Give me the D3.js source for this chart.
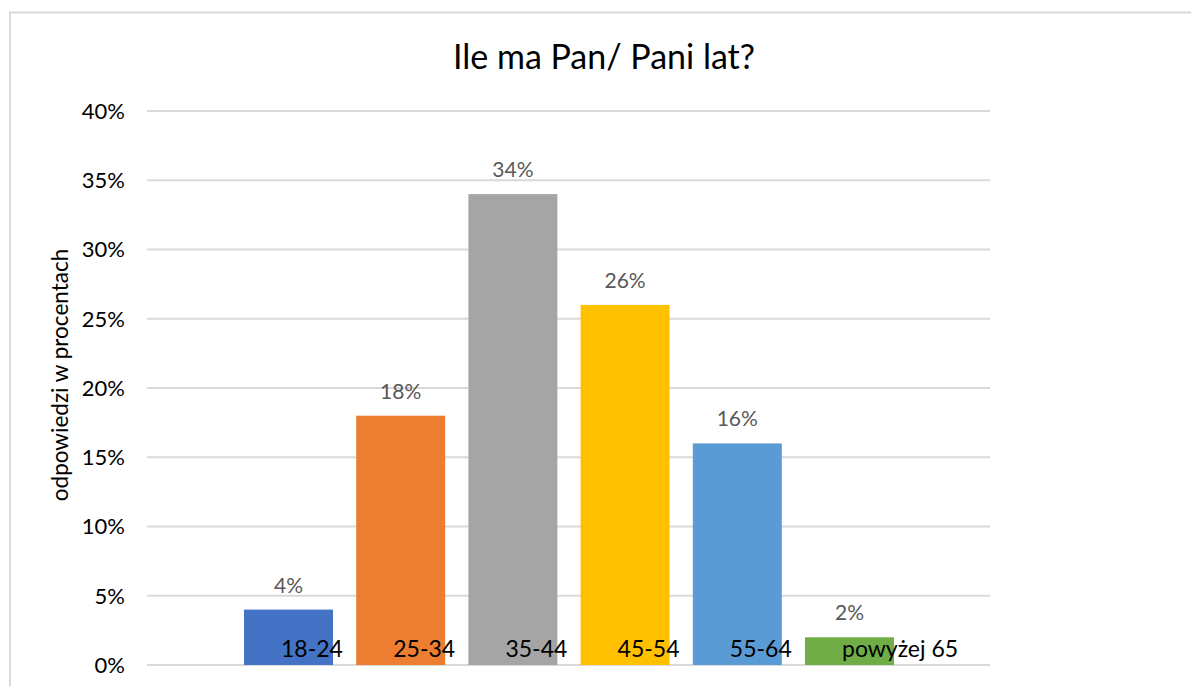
<!DOCTYPE html>
<html lang="pl">
<head>
<meta charset="UTF-8">
<title>Ile ma Pan/ Pani lat?</title>
<style>
  body { margin: 0; background: #fff; }
  text { font-family: Lato, "Open Sans", sans-serif; }
</style>
</head>
<body>
<script src="https://d3js.org/d3.v7.min.js"></script>
<script>
    // dane
    var categories = ['18-24', '25-34', '35-44', '45-54', '55-64', 'powyżej 65']
    var values = [0.04, 0.18, 0.34, 0.26, 0.16, 0.02]
    var colors = ['#4472C4', '#ED7D31', '#A5A5A5', '#FFC000', '#5B9BD5', '#70AD47']
    var yTicks = [0, 0.05, 0.10, 0.15, 0.20, 0.25, 0.30, 0.35, 0.40]

    var title = 'Ile ma Pan/ Pani lat?'
    var yTitle = 'odpowiedzi w procentach'

    var width = 1191, height = 686

    var svg = d3.select('body').append('svg')
        .attr('width', width)
        .attr('height', height)

    // ramka wykresu (prawa i dolna krawedz poza kadrem)
    svg.append('rect')
        .attr('x', 10).attr('y', 12.5)
        .attr('width', 1200).attr('height', 700)
        .attr('fill', '#fff')
        .attr('stroke', '#D9D9D9')
        .attr('stroke-width', 2)

    var x = d3.scaleBand()
        .domain(categories)
        .range([232.4, 905.6])
        .paddingInner(0.207)
        .paddingOuter(0.1035)

    var y = d3.scaleLinear()
        .domain([0, 0.4])
        .range([665, 111])

    var pct = d3.format('.0%')

    // siatka
    svg.append('g').selectAll('line').data(yTicks).enter().append('line')
        .attr('x1', 147).attr('x2', 990)
        .attr('y1', function (d) { return y(d) })
        .attr('y2', function (d) { return y(d) })
        .attr('stroke', '#D9D9D9')
        .attr('stroke-width', 2)

    // etykiety osi Y
    svg.append('g').selectAll('text').data(yTicks).enter().append('text')
        .attr('x', 125)
        .attr('y', function (d) { return y(d) })
        .attr('dy', '0.36em')
        .attr('text-anchor', 'end')
        .attr('font-size', 22)
        .attr('fill', '#000')
        .text(function (d) { return pct(d) })

    // slupki
    svg.append('g').selectAll('rect').data(values).enter().append('rect')
        .attr('x', function (d, i) { return x(categories[i]) })
        .attr('y', function (d) { return y(d) })
        .attr('width', x.bandwidth())
        .attr('height', function (d) { return y(0) - y(d) })
        .attr('fill', function (d, i) { return colors[i] })

    // etykiety danych
    svg.append('g').selectAll('text').data(values).enter().append('text')
        .attr('x', function (d, i) { return x(categories[i]) + x.bandwidth() / 2 })
        .attr('y', function (d) { return y(d) - 17 })
        .attr('text-anchor', 'middle')
        .attr('font-size', 21)
        .attr('fill', '#595959')
        .text(function (d) { return pct(d) })

    // etykiety kategorii (w Excelu przesuniete w prawo)
    svg.append('g').selectAll('text').data(categories).enter().append('text')
        .attr('x', function (d) { return x(d) + 37 })
        .attr('y', 657)
        .attr('text-anchor', 'start')
        .attr('font-size', 23)
        .attr('fill', '#000')
        .text(function (d) { return d })

    // tytul
    svg.append('text')
        .attr('x', 604).attr('y', 69)
        .attr('text-anchor', 'middle')
        .attr('font-size', 34)
        .attr('fill', '#000')
        .text(title)

    // tytul osi Y
    svg.append('text')
        .attr('transform', 'translate(68,375) rotate(-90)')
        .attr('text-anchor', 'middle')
        .attr('font-size', 22.5)
        .attr('fill', '#000')
        .text(yTitle)
</script>
</body>
</html>
